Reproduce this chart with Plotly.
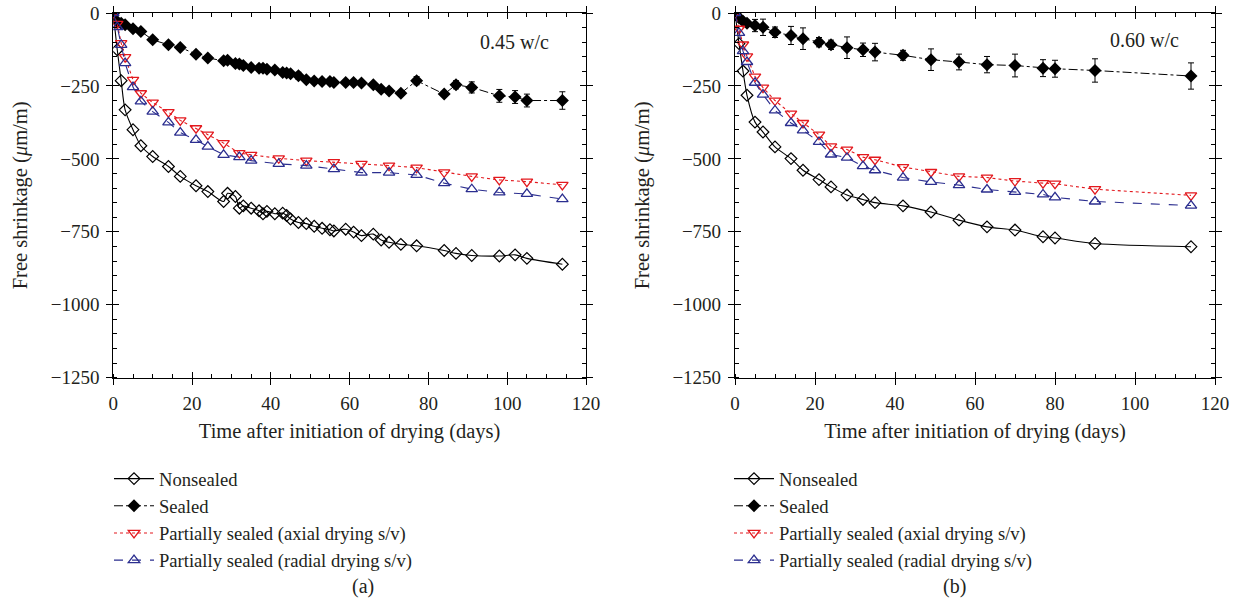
import plotly.graph_objects as go

# ---------------- Panel (a): 0.45 w/c ----------------
days_a_ns = [0, 1, 2, 3, 5, 7, 10, 14, 17, 21, 24, 28, 29, 31, 32, 33, 35, 37, 38, 39, 41, 43, 44, 45,
             47, 49, 51, 53, 55, 56, 59, 61, 63, 66, 68, 70, 73, 77, 84, 87, 91, 98, 102, 105, 114]
nonsealed_a = [0, -126, -232, -332, -400, -455, -492, -526, -560, -592, -612, -646, -618, -629, -669,
               -661, -669, -678, -688, -680, -688, -686, -694, -706, -718, -722, -731, -738, -743, -747,
               -741, -751, -763, -758, -778, -786, -793, -798, -814, -824, -831, -833, -829, -841, -861]
sealed_a = [0, -29, -35, -40, -54, -63, -92, -109, -118, -141, -154, -164, -162, -173, -175, -180, -187,
            -189, -189, -193, -195, -204, -206, -208, -215, -229, -233, -235, -235, -238, -238, -238,
            -240, -246, -261, -267, -275, -232, -278, -246, -255, -284, -288, -300, -300]
sealed_a_err = [0, 4, 4, 4, 5, 5, 5, 5, 5, 5, 5, 5, 5, 5, 5, 5, 5, 5, 5, 5, 5, 5, 5, 5,
                12, 6, 6, 6, 6, 6, 6, 6, 6, 6, 6, 6, 6, 14, 8, 14, 19, 22, 22, 22, 30]
days_a_ps = [0, 1, 2, 3, 5, 7, 10, 14, 17, 21, 24, 28, 32, 35, 42, 49, 56, 63, 70, 77, 84, 91, 98, 105, 114]
axial_a = [0, -37, -103, -151, -229, -275, -307, -340, -368, -395, -417, -446, -480, -486, -498,
           -506, -511, -517, -523, -530, -546, -560, -572, -578, -589]
radial_a = [0, -48, -109, -172, -254, -303, -338, -375, -410, -435, -458, -486, -494, -506, -517,
            -523, -535, -547, -547, -555, -583, -604, -615, -620, -638]

# ---------------- Panel (b): 0.60 w/c ----------------
days_b = [0, 1, 2, 3, 5, 7, 10, 14, 17, 21, 24, 28, 32, 35, 42, 49, 56, 63, 70, 77, 80, 90, 114]
nonsealed_b = [0, -105, -199, -282, -374, -408, -459, -499, -539, -571, -596, -624, -639, -650, -661,
               -682, -710, -733, -744, -767, -771, -790, -801]
sealed_b = [0, -16, -28, -35, -43, -49, -66, -77, -88, -100, -109, -119, -126, -134, -145, -160, -168,
            -177, -180, -189, -191, -197, -216]
sealed_b_err = [0, 8, 8, 10, 21, 28, 18, 31, 37, 16, 16, 37, 23, 30, 17, 37, 27, 28, 39, 29, 29, 40, 45]
axial_b = [0, -54, -108, -149, -218, -256, -300, -345, -377, -417, -457, -468, -494, -503, -528, -545,
           -560, -564, -576, -583, -585, -604, -625]
radial_b = [0, -68, -131, -168, -239, -280, -334, -377, -402, -442, -485, -496, -525, -539, -564, -579,
            -590, -605, -613, -622, -632, -646, -660]

series_names = ["Nonsealed", "Sealed", "Partially sealed (axial drying s/v)",
                "Partially sealed (radial drying s/v)"]
x_ticks = [0, 20, 40, 60, 80, 100, 120]
y_ticks = [0, -250, -500, -750, -1000, -1250]
panel_labels = ["(a)", "(b)"]
wc_labels = ["0.45 w/c", "0.60 w/c"]

FONT = "Liberation Serif"
TXT = "#231f20"
RED = "#e3191e"
BLUE = "#2b2e8f"

# the page body margin is removed (post_script below), so the figure fills the window
W, H = 1238, 614


def px(x):
    return x / W


def py(y):
    return 1 - y / H


fig = go.Figure()


def add_panel(xa, ya, legend, d_ns, ns, d_s, s, s_err, d_ps, ax, rad):
    fig.add_trace(go.Scatter(
        x=d_ns, y=ns, mode="lines+markers", name=series_names[0], legend=legend,
        xaxis=xa, yaxis=ya, line=dict(color="black", width=1.1, shape="spline", smoothing=0.8),
        marker=dict(symbol="diamond-open", size=9, color="black", line=dict(width=1.2))))
    fig.add_trace(go.Scatter(
        x=d_s, y=s, mode="lines+markers", name=series_names[1], legend=legend,
        xaxis=xa, yaxis=ya, line=dict(color="black", width=1, dash="dashdot"),
        marker=dict(symbol="diamond", size=10, color="black"),
        error_y=dict(type="data", array=s_err, visible=True, color="black", thickness=1, width=3)))
    fig.add_trace(go.Scatter(
        x=d_ps, y=ax, mode="lines+markers", name=series_names[2], legend=legend,
        xaxis=xa, yaxis=ya, line=dict(color=RED, width=1.1, dash="dot"),
        marker=dict(symbol="triangle-down-open", size=10, color=RED, line=dict(width=1.3))))
    fig.add_trace(go.Scatter(
        x=d_ps, y=rad, mode="lines+markers", name=series_names[3], legend=legend,
        xaxis=xa, yaxis=ya, line=dict(color=BLUE, width=1.1, dash="dash"),
        marker=dict(symbol="triangle-up-open", size=10, color=BLUE, line=dict(width=1.3))))


add_panel("x", "y", "legend", days_a_ns, nonsealed_a, days_a_ns, sealed_a, sealed_a_err,
          days_a_ps, axial_a, radial_a)
add_panel("x2", "y2", "legend2", days_b, nonsealed_b, days_b, sealed_b, sealed_b_err,
          days_b, axial_b, radial_b)

# dummy traces so the overlay (inside-tick) axes get drawn
for xa, ya in [("x3", "y3"), ("x4", "y4")]:
    fig.add_trace(go.Scatter(x=[None], y=[None], xaxis=xa, yaxis=ya, showlegend=False,
                             hoverinfo="skip"))

dom_a = [px(113.3), px(586)]
dom_b = [px(735), px(1215)]
dom_y = [py(377.7), py(13)]
tickfont = dict(family=FONT, size=19, color=TXT)
titlefont = dict(family=FONT, size=20.5, color=TXT)


def main_x(domain, anchor):
    return dict(domain=domain, anchor=anchor, range=[0, 120], tickvals=x_ticks,
                ticks="outside", ticklen=6, tickwidth=1, tickcolor="black",
                mirror="ticks", showline=True, linecolor="black", linewidth=1.2,
                showgrid=False, zeroline=False, tickfont=tickfont, automargin=False,
                ticklabelstandoff=2, ticklabeloverflow="allow",
                minor=dict(ticks="inside", ticklen=4, dtick=5, tickcolor="black", tickwidth=1),
                title=dict(text="Time after initiation of drying (days)", font=titlefont, standoff=11))


def main_y(domain, anchor):
    return dict(domain=domain, anchor=anchor, range=[-1250, 0], tickvals=y_ticks,
                ticks="outside", ticklen=6, tickwidth=1, tickcolor="black",
                mirror="ticks", showline=True, linecolor="black", linewidth=1.2,
                showgrid=False, zeroline=False, tickfont=tickfont, automargin=False,
                ticklabelstandoff=3, ticklabeloverflow="allow",
                minor=dict(ticks="inside", ticklen=4, dtick=50, tickcolor="black", tickwidth=1),
                title=dict(text="Free shrinkage (<i>μ</i>m/m)", font=titlefont, standoff=17))


def over_x(over, anchor):
    return dict(overlaying=over, anchor=anchor, range=[0, 120], tickvals=x_ticks,
                ticks="inside", ticklen=6, tickwidth=1, tickcolor="black", mirror="ticks",
                showline=False, showgrid=False, zeroline=False, showticklabels=False)


def over_y(over, anchor):
    return dict(overlaying=over, anchor=anchor, range=[-1250, 0], tickvals=y_ticks,
                ticks="inside", ticklen=6, tickwidth=1, tickcolor="black", mirror="ticks",
                showline=False, showgrid=False, zeroline=False, showticklabels=False)


legend_common = dict(font=dict(family=FONT, size=18.6, color=TXT), bgcolor="rgba(0,0,0,0)",
                     xanchor="left", yanchor="top", tracegroupgap=0, itemwidth=40)

fig.update_layout(
    width=W, height=H,
    margin=dict(l=0, r=0, t=0, b=0),
    paper_bgcolor="white", plot_bgcolor="white",
    font=dict(family=FONT, color=TXT),
    xaxis=main_x(dom_a, "y"), yaxis=main_y(dom_y, "x"),
    xaxis2=main_x(dom_b, "y2"), yaxis2=main_y(dom_y, "x2"),
    xaxis3=over_x("x", "y"), yaxis3=over_y("y", "x"),
    xaxis4=over_x("x2", "y2"), yaxis4=over_y("y2", "x2"),
    legend=dict(x=px(109), y=py(460), **legend_common),
    legend2=dict(x=px(729), y=py(460), **legend_common),
    showlegend=True,
    annotations=[
        dict(text=wc_labels[0], x=111, y=-98, xref="x", yref="y", showarrow=False,
             xanchor="right", yanchor="middle", font=dict(family=FONT, size=20, color=TXT)),
        dict(text=wc_labels[1], x=111.5, y=-94, xref="x2", yref="y2", showarrow=False,
             xanchor="right", yanchor="middle", font=dict(family=FONT, size=20, color=TXT)),
        dict(text=panel_labels[0], x=px(350), y=py(600), xref="paper", yref="paper",
             showarrow=False, font=dict(family=FONT, size=20, color=TXT)),
        dict(text=panel_labels[1], x=px(968), y=py(600), xref="paper", yref="paper",
             showarrow=False, font=dict(family=FONT, size=20, color=TXT)),
    ],
)

fig.write_html("out.html", config={"displayModeBar": False},
               post_script="document.body.style.margin='0px';document.body.style.overflow='hidden';")
